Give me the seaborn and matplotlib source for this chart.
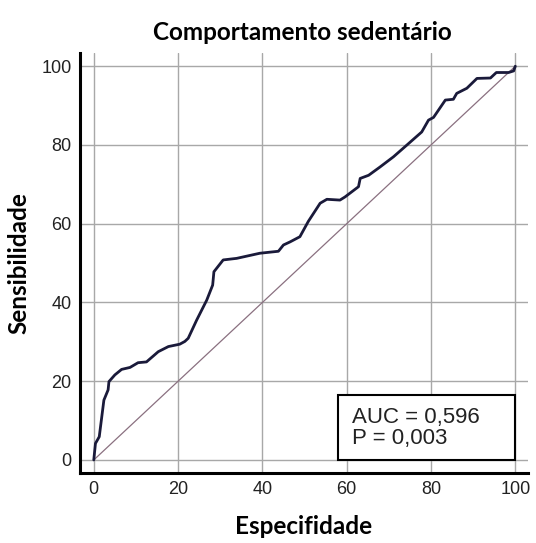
import matplotlib
matplotlib.use("Agg")
import matplotlib.pyplot as plt
import seaborn as sns
import pandas as pd
from matplotlib.ticker import MultipleLocator
from matplotlib.patches import Rectangle

sns.set_style("white")
plt.rcParams['font.family'] = ['Liberation Sans', 'DejaVu Sans']

title = "Comportamento sedentário"
xlabel = "Especifidade"
ylabel = "Sensibilidade"
auc_text = "AUC = 0,596\nP = 0,003"

spec = [0, 0.4, 1.3, 2.4, 3.4, 3.6, 5.0, 6.6, 8.6, 10.5, 12.5, 15.3, 17.7, 20.4,
        21.6, 22.4, 24.4, 26.8, 28.2, 28.3, 28.5, 30.7, 33.9, 39.4, 43.8, 45.0,
        46.6, 48.9, 50.9, 53.7, 55.3, 58.4, 59.6, 62.8, 63.2, 65.2, 67.9, 71.1,
        74.3, 77.8, 79.4, 80.6, 83.4, 85.3, 86.1, 88.5, 90.9, 94.1, 95.5, 98.4,
        99.6, 100]
sens = [0, 4.2, 5.9, 15.2, 17.8, 19.9, 21.6, 23.0, 23.5, 24.7, 24.9, 27.5, 28.8, 29.4,
        30.1, 30.9, 35.5, 40.6, 44.4, 45.5, 47.8, 50.8, 51.2, 52.5, 53.0, 54.6,
        55.4, 56.7, 60.6, 65.2, 66.2, 66.0, 66.8, 69.4, 71.5, 72.3, 74.4, 77.0,
        80.0, 83.3, 86.3, 87.0, 91.4, 91.6, 93.1, 94.4, 96.9, 97.0, 98.4, 98.4,
        98.8, 100]
diag = [0, 100]

df = pd.DataFrame({"spec": spec, "sens": sens})
dd = pd.DataFrame({"x": diag, "y": diag})

fig = plt.figure(figsize=(5.36, 5.43), dpi=100)
ax = fig.add_axes([0.149, 0.129, 0.836, 0.773])

ax.set_xlim(-3.3, 103)
ax.set_ylim(-3.3, 103.3)
ax.xaxis.set_major_locator(MultipleLocator(20))
ax.yaxis.set_major_locator(MultipleLocator(20))
ax.xaxis.set_minor_locator(MultipleLocator(5))
ax.yaxis.set_minor_locator(MultipleLocator(5))
ax.grid(True, which='major', color='#a8a8a8', linewidth=1.0)
ax.set_axisbelow(True)

sns.lineplot(data=dd, x="x", y="y", ax=ax, color='#8a7080', linewidth=0.9,
             sort=False, estimator=None)
sns.lineplot(data=df, x="spec", y="sens", ax=ax, color='#1a1a3a', linewidth=2.0,
             sort=False, estimator=None)

for s in ['top', 'right']:
    ax.spines[s].set_visible(False)
for s in ['left', 'bottom']:
    ax.spines[s].set_color('black')
    ax.spines[s].set_linewidth(2.2)

ax.tick_params(which='both', direction='in', color='#555555')
ax.tick_params(which='major', length=5, width=1, labelsize=13, pad=6,
               labelcolor='#222222')
ax.tick_params(which='minor', length=4, width=1)

lab_font = ['Lato', 'DejaVu Sans']
ax.set_xlabel(xlabel, fontsize=17.5, fontweight='bold', family=lab_font, labelpad=12,
              color='black')
ax.set_ylabel(ylabel, fontsize=17.5, fontweight='bold', family=lab_font, labelpad=8,
              color='black')
fig.suptitle(title, x=0.565, y=0.962, fontsize=17.5, fontweight='bold', family=lab_font,
             color='black')

ax.add_patch(Rectangle((58.0, 0.0), 42.0, 16.5, facecolor='white', edgecolor='black',
                       linewidth=1.5, zorder=5))
ax.text(61.3, 8.2, auc_text, fontsize=16, va='center', ha='left', color='#222222',
        linespacing=1.0, zorder=6)

fig.savefig("out.png", dpi=100, facecolor='white')
